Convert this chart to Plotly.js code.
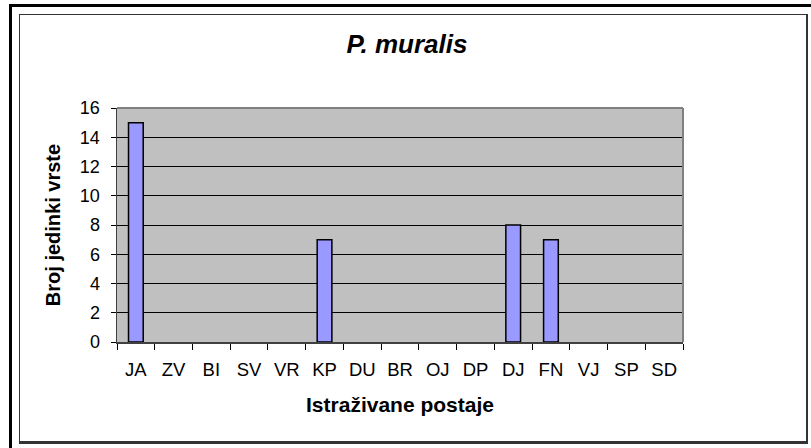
<!DOCTYPE html>
<html>
<head>
<meta charset="utf-8">
<script src="https://cdn.plot.ly/plotly-3.0.1.min.js"></script>
<style>
  html, body { margin: 0; padding: 0; background: #fff; overflow: hidden; }
  #wrap { position: relative; width: 811px; height: 448px; overflow: hidden; }
  #outer { position: absolute; left: 9px; top: 4px; width: 900px; height: 600px; border: 3px solid #000; box-sizing: border-box; }
  #inner { position: absolute; left: 19px; top: 14px; width: 789px; height: 430px; box-sizing: border-box;
           border-top: 1.5px solid #333; border-left: 1.5px solid #333; border-right: 2px solid #333; border-bottom: 3px solid #333; background: #fff; }
  #chart { position: absolute; left: 0; top: 0; width: 811px; height: 448px; }
</style>
</head>
<body>
<div id="wrap">
  <div id="outer"></div>
  <div id="inner"></div>
  <div id="chart"></div>
</div>
<script>
const categories = ["JA","ZV","BI","SV","VR","KP","DU","BR","OJ","DP","DJ","FN","VJ","SP","SD"];
const values = [15, 0, 0, 0, 0, 7, 0, 0, 0, 0, 8, 7, 0, 0, 0];
const yTicks = [0, 2, 4, 6, 8, 10, 12, 14, 16];

const trace = {
  type: 'bar',
  x: categories,
  y: values,
  marker: { color: '#9999FF', line: { color: '#000000', width: values.map(v => v > 0 ? 1.5 : 0) } },
  hoverinfo: 'x+y'
};

const layout = {
  width: 811,
  height: 448,
  paper_bgcolor: 'rgba(0,0,0,0)',
  plot_bgcolor: '#C0C0C0',
  margin: { l: 117, r: 128, t: 108, b: 106, pad: 0 },
  bargap: 0.61,
  showlegend: false,
  font: { family: 'Liberation Sans, Arial, sans-serif', color: '#000', size: 18 },
  title: {
    text: '<b><i>P. muralis</i></b>',
    font: { family: 'Liberation Sans, Arial, sans-serif', size: 26, color: '#000' },
    x: 407 / 811, xanchor: 'center',
    y: 1 - 44 / 448, yanchor: 'middle'
  },
  xaxis: {
    type: 'category',
    tickson: 'boundaries',
    ticks: 'outside',
    ticklen: 6,
    tickwidth: 1,
    tickcolor: '#000',
    showline: true,
    linecolor: '#404040',
    linewidth: 1.5,
    showgrid: false,
    zeroline: false,
    tickfont: { size: 18.5 },
    ticklabelstandoff: 10,
    title: { text: '<b>Istraživane postaje</b>', font: { size: 21 }, standoff: 18 }
  },
  yaxis: {
    range: [0, 16],
    tickvals: yTicks,
    ticktext: yTicks.map(String),
    ticks: 'outside',
    ticklen: 5,
    tickwidth: 1,
    tickcolor: '#000',
    showline: true,
    linecolor: '#404040',
    linewidth: 1.5,
    showgrid: true,
    gridcolor: '#000000',
    gridwidth: 1,
    zeroline: false,
    tickfont: { size: 18 },
    ticklabelstandoff: 7,
    title: { text: '<b>Broj jedinki vrste</b>', font: { size: 20 }, standoff: 14 }
  },
  shapes: [
    { type: 'line', xref: 'paper', yref: 'paper', x0: 0, x1: 1, y0: 1, y1: 1, line: { color: '#808080', width: 2 } },
    { type: 'line', xref: 'paper', yref: 'paper', x0: 1, x1: 1, y0: 0, y1: 1, line: { color: '#808080', width: 2 } }
  ]
};

Plotly.newPlot('chart', [trace], layout, { staticPlot: true, displayModeBar: false });
</script>
</body>
</html>
